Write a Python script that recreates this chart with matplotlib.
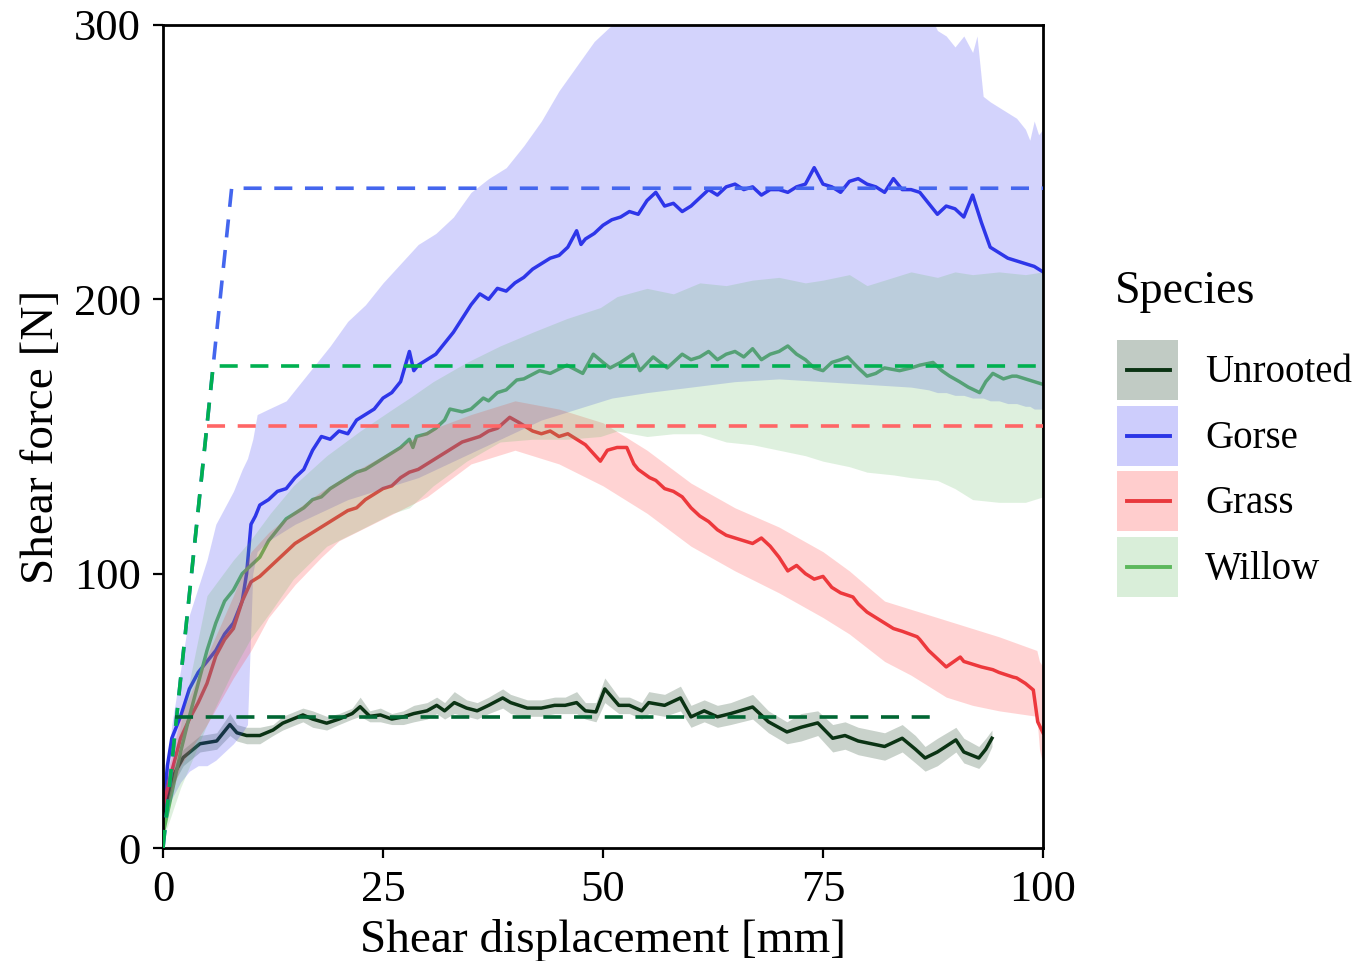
import matplotlib
matplotlib.use("Agg")
import matplotlib.pyplot as plt
from matplotlib.patches import Rectangle
from matplotlib.lines import Line2D
from matplotlib.legend_handler import HandlerBase

plt.rcParams['font.family'] = ['Liberation Serif', 'DejaVu Serif']

species = ["Unrooted", "Gorse", "Grass", "Willow"]

# ---------------- Gorse ----------------
gorse_x = [0, 0.5, 1, 2, 3, 4, 5, 6, 7, 8, 9, 9.5, 10, 10.5, 11, 12, 13, 14, 15, 16, 17, 18, 19, 20,
           21, 22, 23, 24, 25, 26, 27, 28, 28.5, 29, 30, 31, 32, 33, 34, 35, 36, 37, 38, 39, 40, 41,
           42, 43, 44, 45, 46, 47, 47.5, 48, 49, 50, 51, 52, 53, 54, 55, 56, 57, 58, 59, 60, 61, 62,
           63, 64, 65, 66, 67, 68, 69, 70, 71, 72, 73, 74, 75, 76, 77, 78, 79, 80, 81, 82, 83, 84, 85,
           86, 87, 88, 89, 90, 91, 92, 93, 94, 95, 96, 97, 98, 99, 100]
gorse_mean = [12, 30, 40, 48, 58, 64, 68, 72, 78, 82, 90, 100, 118, 121, 125, 127, 130, 131, 135, 138, 145, 150, 149, 152,
              151, 156, 158, 160, 164, 166, 170, 181, 174, 176, 178, 180, 184, 188, 193, 198, 202, 200, 204, 203, 206, 208,
              211, 213, 215, 216, 219, 225, 220, 222, 224, 227, 229, 230, 232, 231, 236, 239, 234, 235, 232, 234, 237, 240,
              238, 241, 242, 240, 241, 238, 240, 240, 239, 241, 242, 248, 242, 241, 239, 243, 244, 242, 241, 239, 244, 240, 240,
              239, 235, 231, 234, 233, 230, 238, 228, 219, 217, 215, 214, 213, 212, 210]
gorse_bx = [0, 1, 2, 3, 4, 5, 6, 7, 8, 9, 9.6, 10.2, 10.7, 12, 14, 15, 17, 19, 21, 23, 25, 27, 29, 31, 33, 35,
            37, 39, 41, 43, 45, 47, 49, 51, 53, 55, 60, 65, 70, 75, 80, 85, 87, 88, 89, 90, 91, 92, 92.5, 93.2,
            94, 95, 96, 97, 98, 98.5, 99, 99.5, 100]
gorse_upper = [14, 45, 65, 85, 95, 105, 118, 124, 130, 138, 142, 149, 158, 160, 163, 167, 175, 183, 192, 198, 206, 213, 220, 224, 230, 239,
               244, 248, 256, 265, 276, 285, 294, 300, 305, 310, 315, 320, 320, 320, 318, 312, 305, 298, 296, 292, 296, 290, 296, 274,
               272, 270, 268, 266, 262, 258, 265, 260, 262]
gorse_lower = [10, 18, 24, 28, 30, 30, 32, 35, 38, 42, 45, 100, 108, 112, 116, 118, 121, 124, 127, 129, 131, 133, 135, 138, 141, 144,
               147, 150, 153, 156, 158, 160, 162, 164, 165, 166, 168, 170, 171, 170, 169, 168, 167, 166, 166, 165, 165, 164, 164, 164,
               163, 163, 162, 162, 161, 161, 160, 160, 160]

# ---------------- Willow ----------------
willow_x = [0, 1, 2, 3, 4, 5, 6, 7, 8, 9, 10, 11, 12, 13, 14, 15, 16, 17, 18, 19, 20, 21, 22, 23, 24, 25, 26, 27,
            28, 28.4, 28.8, 30, 31, 32, 32.6, 34, 35, 36.4, 37, 38, 39, 40.2, 41, 42.8, 44, 45.9, 47.7, 48.9, 50,
            50.8, 52, 53.4, 54.2, 55.7, 57.3, 59, 60, 61, 62, 63, 64, 65, 66, 67, 68, 69, 70, 71, 72, 73, 74, 75,
            76, 77, 77.8, 79, 80, 81, 82, 83.7, 85, 86, 87.5, 88.5, 89.4, 90.5, 91.5, 92.8, 93.5, 94.3, 95.5, 96.5,
            97, 98, 99, 100]
willow_mean = [5, 20, 35, 48, 60, 72, 82, 90, 94, 100, 103, 106, 112, 116, 120, 122, 124, 127, 128, 131, 133, 135, 137, 138, 140, 142, 144, 146,
               149, 146, 150, 151, 153, 156, 160, 159, 160, 164, 163, 166, 167, 170.6, 171, 174, 173, 176, 173, 180, 177,
               175, 177, 180, 174, 179, 175, 180, 178, 179, 181, 178, 180, 181, 179, 182, 178, 180, 181, 183, 180, 178, 175, 174,
               177, 178, 179, 175, 172, 173, 175, 174, 175, 176, 177, 174, 172, 170, 168, 166, 170, 173, 171, 172,
               172, 171, 170, 169]
willow_bx = [0, 2, 5, 8, 9.9, 12.2, 14.8, 18.6, 22.4, 26.1, 28, 30.7, 34.5, 38.3, 42, 45.9, 49.7, 51.6, 55, 58, 61, 64, 67,
             70, 73, 75, 78, 80, 83, 85, 88, 90, 92, 95, 98, 100]
willow_upper = [8, 45, 92, 105, 112, 122, 132, 143, 152, 160, 164, 170, 177, 183, 188, 193, 197, 201, 204, 202, 206, 205, 207,
                208, 206, 207, 209, 205, 208, 210, 208, 210, 209, 210, 209, 210]
willow_lower = [3, 22, 45, 65, 76, 86, 98, 110, 116, 122, 124, 132, 141, 148, 149, 149, 150, 152, 150, 151, 151, 148, 147,
                145, 143, 141, 139, 137, 136, 135, 134, 131, 127, 126, 126, 128]

# ---------------- Grass ----------------
grass_x = [0, 1, 2, 3, 4, 5, 6, 7, 8, 9, 10, 11, 12, 13, 14, 15, 16, 17, 18, 19, 20, 21, 22, 23, 24, 25, 26, 27,
           28, 29, 30, 31, 32, 33, 34, 35, 36, 37, 38, 39.4, 40.5, 41, 42, 43, 44, 45, 46, 47, 48, 49.7, 50.5,
           51.6, 52.7, 53.5, 54, 55.3, 56, 57, 58, 59, 60, 61, 62, 63, 64, 65, 66, 67, 68, 69, 70, 71, 72, 73, 74,
           75, 76, 77, 78.4, 79, 80, 81, 82, 83, 84, 85.7, 86, 87, 88, 89, 90.6, 91, 92, 93, 94.3, 95, 96.6, 97,
           98, 98.9, 99.4, 100]
grass_mean = [15, 28, 40, 47, 53, 60, 70, 76, 80, 90, 97, 99, 102, 105, 108, 111, 113, 115, 117, 119, 121, 123, 124, 127, 129, 131, 132, 135,
              137, 138, 140, 142, 144, 146, 148, 149, 150, 152, 153, 157, 155, 154, 152, 151, 152, 150, 151, 149, 147, 141, 145,
              146, 146, 140, 138, 135, 134, 131, 130, 128, 124, 121, 119, 116, 114, 113, 112, 111, 113, 110, 106, 101, 103, 100, 98,
              99, 95, 93, 91.5, 89, 86, 84, 82, 80, 79, 77, 76, 72, 69, 66, 69.6, 68, 67, 66, 65, 64, 62.3, 62,
              60, 57.6, 46, 42]
grass_bx = [0, 2, 5, 8, 10, 12, 15, 18, 20, 25, 30, 35, 40, 45, 50, 55, 60, 65, 70, 75, 78, 82, 85, 89, 92, 95, 99.3, 99.6, 100]
grass_upper = [20, 48, 70, 92, 108, 115, 123, 130, 134, 143, 152, 158, 163, 160, 155, 145, 133, 124, 117, 108, 101, 90, 87, 83, 80, 77, 72, 68, 66]
grass_lower = [10, 30, 45, 62, 72, 84, 96, 106, 112, 120, 128, 140, 145, 140, 132, 122, 110, 101, 93, 84, 78, 68, 63, 55, 52, 50, 48, 36, 30]

# ---------------- Unrooted ----------------
unrooted_x = [0, 1.1, 2.3, 4.2, 6.1, 7.6, 8.4, 9.5, 11, 12.5, 13.6, 15.9, 17, 18.6, 20, 21.5, 22.4, 23.5, 24.7, 26, 27.3,
              28.5, 30, 31.1, 32, 33.1, 34.5, 35.7, 37, 38.6, 39.5, 41.4, 43, 44.5, 45.7, 47, 48, 49.2, 50.2, 51.8,
              53, 54.4, 55.2, 57, 58.8, 60, 61.5, 63, 64.5, 67, 68.8, 70.9, 72.5, 74.4, 76.1, 77.5, 79, 80.5, 82,
              84, 85.5, 86.6, 88, 90.1, 91, 92.7, 93.5, 94.2]
unrooted_mean = [11, 26, 33, 38, 39, 45, 42, 41, 41, 43, 45.5, 48.5, 47, 45.5, 47, 49, 51.5, 48, 48.5, 47, 47.8,
                 49, 50, 52, 50, 53, 51, 50, 52, 54.7, 53, 51, 51, 52, 52, 53, 50, 49.6, 58, 52,
                 52, 50, 53, 52, 54.7, 47.8, 50, 47.8, 49, 51.4, 46, 42.3, 44, 45.6, 40, 41, 39, 38, 37,
                 40, 36, 32.8, 35, 39.4, 35, 32.8, 36, 40]
unrooted_lo = [9, 23, 30, 35, 36, 41, 39, 38, 38, 41, 43, 46, 44, 43, 45, 47, 48, 46, 46, 45, 45,
               46, 47, 49, 47, 49, 48, 47, 49, 51, 49, 48, 48, 49, 49, 49, 47, 46, 53, 49,
               49, 47, 49, 48, 50, 44, 46, 44, 45, 47, 42, 38, 39, 41, 35, 36, 34, 33, 32,
               35, 31, 28, 30, 35, 31, 29, 32, 37]
unrooted_hi = [13, 29, 36, 41, 42, 49, 45, 44, 44, 45, 48, 51, 50, 48, 49, 51, 55, 50, 51, 49, 50,
               52, 53, 55, 53, 57, 54, 53, 55, 58, 56, 54, 54, 55, 55, 57, 53, 53, 62, 55,
               55, 53, 57, 56, 59, 52, 54, 52, 53, 56, 50, 46, 49, 50, 45, 46, 44, 43, 42,
               45, 41, 37, 40, 44, 40, 37, 40, 43]

# ---------------- Bilinear fits (dashed) ----------------
fit_x = {"Unrooted": [1.4, 88.3], "Gorse": [0, 7.8, 100], "Grass": [5.0, 100], "Willow": [0, 5.7, 100]}
fit_y = {"Unrooted": [47.8, 47.8], "Gorse": [0, 240.5, 240.5], "Grass": [154, 154], "Willow": [0, 175.7, 175.7]}

line_col = {"Unrooted": "#0b3314", "Gorse": "#2b35e6", "Grass": "#e8383d", "Willow": "#5cb85c"}
fill_col = {"Unrooted": "#0b3314", "Gorse": "#3a3af5", "Grass": "#ff3b3b", "Willow": "#5cb85c"}
fill_alpha = {"Unrooted": 0.22, "Gorse": 0.22, "Grass": 0.22, "Willow": 0.2}
fit_col = {"Unrooted": "#006633", "Gorse": "#4466ee", "Grass": "#ff6666", "Willow": "#00b050"}

series = {
    "Unrooted": (unrooted_x, unrooted_mean, unrooted_x, unrooted_lo, unrooted_hi),
    "Gorse": (gorse_x, gorse_mean, gorse_bx, gorse_lower, gorse_upper),
    "Grass": (grass_x, grass_mean, grass_bx, grass_lower, grass_upper),
    "Willow": (willow_x, willow_mean, willow_bx, willow_lower, willow_upper),
}

fig = plt.figure(figsize=(13.65, 9.61), dpi=100)
ax = fig.add_axes([163/1365, 1-848/961, (1043-163)/1365, (848-25)/961])

# lines first, shaded bands on top (as in the reference)
for sp in species:
    x, m, bx, lo, hi = series[sp]
    ax.plot(x, m, color=line_col[sp], lw=2.5, zorder=1.5)
for sp in species:
    x, m, bx, lo, hi = series[sp]
    ax.fill_between(bx, lo, hi, color=fill_col[sp], alpha=fill_alpha[sp], lw=0, zorder=2)

for sp in ["Gorse", "Grass", "Willow", "Unrooted"]:
    ax.plot(fit_x[sp], fit_y[sp], color=fit_col[sp], lw=2.6, dashes=(5, 3.5), zorder=3)

ax.set_xlim(0, 100)
ax.set_ylim(0, 300)
ax.set_xticks([0, 25, 50, 75, 100])
ax.set_yticks([0, 100, 200, 300])
ax.tick_params(direction='out', length=7, width=1.6, labelsize=32, pad=9)
for s in ax.spines.values():
    s.set_linewidth(2.0)
ax.set_xlabel("Shear displacement [mm]", fontsize=34, labelpad=6)
ax.set_ylabel("Shear force [N]", fontsize=34, labelpad=8)


class Key:
    def __init__(self, sp):
        self.sp = sp


class KeyHandler(HandlerBase):
    def create_artists(self, legend, orig_handle, xdescent, ydescent, width, height, fontsize, trans):
        sp = orig_handle.sp
        r = Rectangle((-xdescent, -ydescent), width, height, facecolor=fill_col[sp],
                      alpha=fill_alpha[sp] + 0.03, edgecolor='none', transform=trans)
        yc = -ydescent + height / 2
        ln = Line2D([-xdescent + 0.16 * width, -xdescent + 0.86 * width], [yc, yc],
                    color=line_col[sp], lw=2.8, transform=trans)
        return [r, ln]


keys = [Key(sp) for sp in species]
leg = fig.legend(keys, species, handler_map={Key: KeyHandler()},
                 loc='upper left', bbox_to_anchor=(1117/1365, 1-340/961),
                 frameon=False, fontsize=28,
                 handlelength=1.57, handleheight=2.0, labelspacing=0.14, handletextpad=0.7,
                 borderpad=0.0, borderaxespad=0.0)
fig.text(1115/1365, 1-292/961, "Species", fontsize=33, ha='left', va='center')

fig.savefig("out.png", dpi=100)
